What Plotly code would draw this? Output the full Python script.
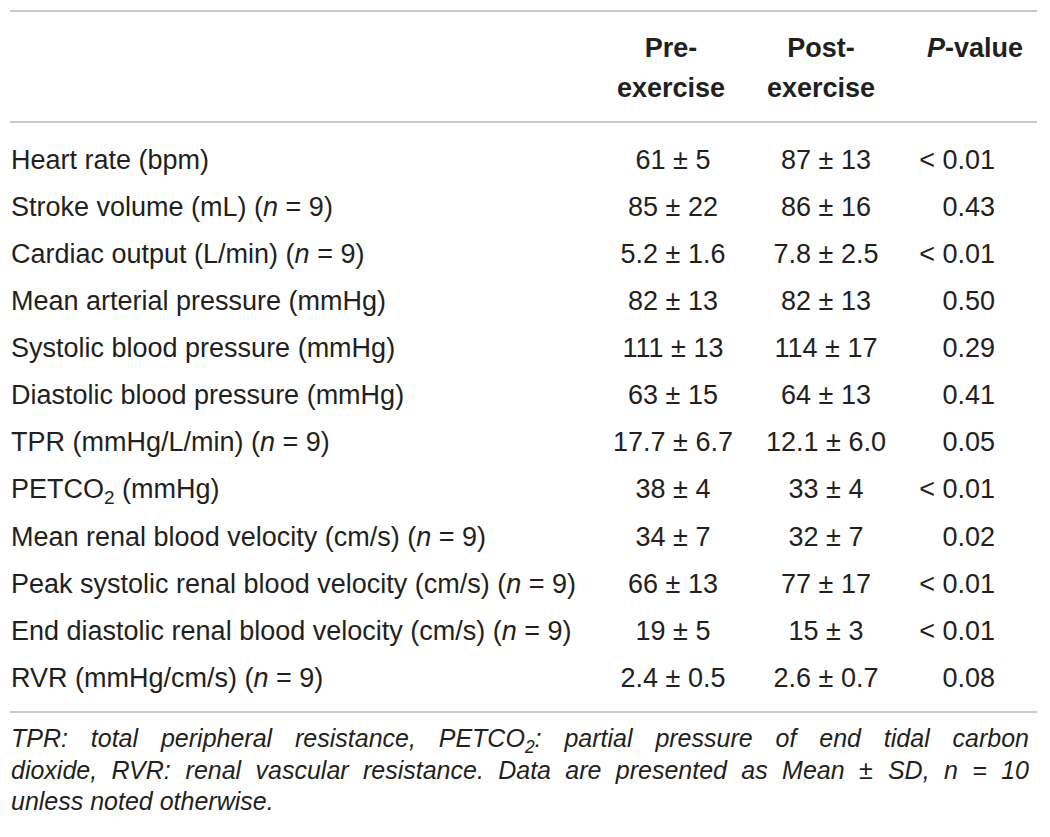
import plotly.graph_objects as go

# ---------------- data ----------------
row_labels = [
    "Heart rate (bpm)",
    "Stroke volume (mL) (<i>n</i> = 9)",
    "Cardiac output (L/min) (<i>n</i> = 9)",
    "Mean arterial pressure (mmHg)",
    "Systolic blood pressure (mmHg)",
    "Diastolic blood pressure (mmHg)",
    "TPR (mmHg/L/min) (<i>n</i> = 9)",
    "PETCO<sub>2</sub> (mmHg)",
    "Mean renal blood velocity (cm/s) (<i>n</i> = 9)",
    "Peak systolic renal blood velocity (cm/s) (<i>n</i> = 9)",
    "End diastolic renal blood velocity (cm/s) (<i>n</i> = 9)",
    "RVR (mmHg/cm/s) (<i>n</i> = 9)",
]
pre_exercise = ["61 ± 5", "85 ± 22", "5.2 ± 1.6", "82 ± 13", "111 ± 13", "63 ± 15",
                "17.7 ± 6.7", "38 ± 4", "34 ± 7", "66 ± 13", "19 ± 5", "2.4 ± 0.5"]
post_exercise = ["87 ± 13", "86 ± 16", "7.8 ± 2.5", "82 ± 13", "114 ± 17", "64 ± 13",
                 "12.1 ± 6.0", "33 ± 4", "32 ± 7", "77 ± 17", "15 ± 3", "2.6 ± 0.7"]
p_values = ["< 0.01", "0.43", "< 0.01", "0.50", "0.29", "0.41",
            "0.05", "< 0.01", "0.02", "< 0.01", "< 0.01", "0.08"]
header_pre = ["Pre-", "exercise"]
header_post = ["Post-", "exercise"]
header_p = "<i>P</i>-value"
footnote_lines = [
    "TPR: total peripheral resistance, PETCO<sub>2</sub>: partial pressure of end tidal carbon",
    "dioxide, RVR: renal vascular resistance. Data are presented as Mean ± SD, n = 10",
    "unless noted otherwise.",
]

# ---------------- layout constants ----------------
PAGE_W, PAGE_H = 1050, 837
BODY_MARGIN = 8  # default page margin around the plot div
W, H = PAGE_W - BODY_MARGIN, PAGE_H - BODY_MARGIN
FONT = "Liberation Sans, Arial, sans-serif"
TXT = "#231f20"
RULE = "#c9c9c9"
BODY_SIZE = 27
FOOT_SIZE = 25
X_LEFT = 11
X_RIGHT = 1037
X_PRE = 673
X_POST = 826
X_PRE_HEAD = 671
X_POST_HEAD = 821
X_PV = 995
X_PH = 1023
ROW0 = 162
ROW_STEP = 47.1
HEAD_Y = [50, 90]
RULE_Y = [11, 122, 712]
FOOT_Y0 = 741
FOOT_STEP = 31.5
FOOT_RIGHT = 1029

row_y = [ROW0 + i * ROW_STEP for i in range(len(row_labels))]

fig = go.Figure()

def text_trace(xs, ys, texts, pos, size=BODY_SIZE):
    fig.add_trace(go.Scatter(
        x=xs, y=ys, text=texts, mode="text", textposition=pos,
        textfont=dict(family=FONT, size=size, color=TXT),
        hoverinfo="skip", showlegend=False, cliponaxis=False))

# body
text_trace([X_LEFT] * len(row_labels), row_y, row_labels, "middle right")
text_trace([X_PRE] * len(pre_exercise), row_y, pre_exercise, "middle center")
text_trace([X_POST] * len(post_exercise), row_y, post_exercise, "middle center")
text_trace([X_PV] * len(p_values), row_y, p_values, "middle left")

# header
text_trace([X_PRE_HEAD] * 2, HEAD_Y, ["<b>%s</b>" % t for t in header_pre], "middle center")
text_trace([X_POST_HEAD] * 2, HEAD_Y, ["<b>%s</b>" % t for t in header_post], "middle center")
text_trace([X_PH], [HEAD_Y[0]], ["<b>%s</b>" % header_p], "middle left")

# footnote: justified by distributing spaces (Arial metrics)
AW = {' ': 278, '(': 333, ')': 333, ',': 278, '-': 333, '.': 278, '/': 278, ':': 278,
      '=': 584, '±': 584, '<': 584}
for c in "0123456789":
    AW[c] = 556
AW.update(dict(A=667, B=667, C=722, D=722, E=667, F=611, G=778, H=722, I=278, J=500,
               K=667, L=556, M=833, N=722, O=778, P=667, Q=778, R=722, S=667, T=611,
               U=722, V=667, W=944, X=667, Y=667, Z=611))
AW.update(dict(a=556, b=556, c=500, d=556, e=556, f=278, g=556, h=556, i=222, j=222,
               k=500, l=222, m=833, n=556, o=556, p=556, q=556, r=333, s=500, t=278,
               u=556, v=500, w=722, x=500, y=500, z=500))

def word_width(w, size):
    total = 0.0
    scale = 1.0
    i = 0
    while i < len(w):
        if w.startswith("<sub>", i):
            scale = 0.7; i += 5; continue
        if w.startswith("</sub>", i):
            scale = 1.0; i += 6; continue
        total += AW.get(w[i], 556) * scale
        i += 1
    return total * size / 1000.0

fx, fy, ft = [], [], []
for li, line in enumerate(footnote_lines):
    words = line.split(" ")
    y = FOOT_Y0 + li * FOOT_STEP
    widths = [word_width(w, FOOT_SIZE) for w in words]
    last = li == len(footnote_lines) - 1
    if last or len(words) < 2:
        gap = AW[' '] * FOOT_SIZE / 1000.0
    else:
        gap = (FOOT_RIGHT - X_LEFT - sum(widths)) / (len(words) - 1)
    x = X_LEFT
    for w, wd in zip(words, widths):
        fx.append(x); fy.append(y); ft.append("<i>%s</i>" % w)
        x += wd + gap
text_trace(fx, fy, ft, "middle right", size=FOOT_SIZE)

# rules
for ry in RULE_Y:
    fig.add_shape(type="line", xref="x", yref="y", x0=X_LEFT - 1, x1=X_RIGHT, y0=ry, y1=ry,
                  line=dict(color=RULE, width=2))

# axis ranges chosen so that data units equal page pixels
fig.update_layout(
    width=W, height=H, margin=dict(l=0, r=0, t=0, b=0),
    paper_bgcolor="white", plot_bgcolor="white",
    xaxis=dict(range=[BODY_MARGIN, PAGE_W], visible=False, fixedrange=True),
    yaxis=dict(range=[PAGE_H, BODY_MARGIN], visible=False, fixedrange=True),
)
fig.write_html("out.html")
